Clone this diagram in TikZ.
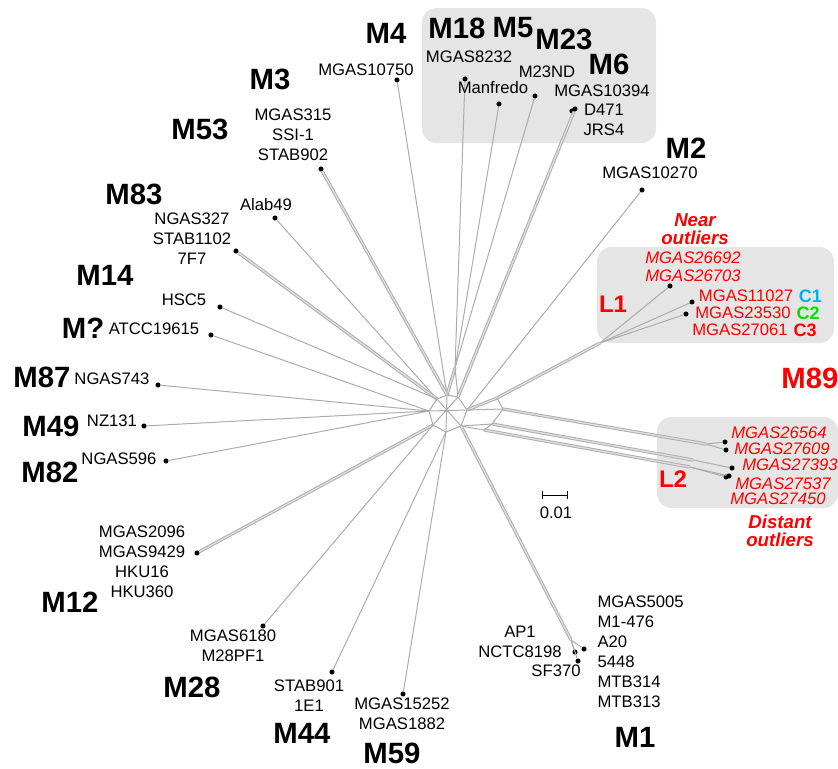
\documentclass[tikz,border=0pt]{standalone}
\usepackage{fontspec}
\setmainfont{Liberation Sans}
\usetikzlibrary{positioning}
\definecolor{netgray}{RGB}{172,172,172}
\definecolor{panelgray}{RGB}{229,229,229}
\definecolor{mred}{RGB}{255,0,0}
\definecolor{ccyan}{RGB}{0,176,240}
\definecolor{cgreen}{RGB}{0,225,0}

\begin{document}
\begin{tikzpicture}[x=0.75pt,y=-0.75pt]
  \tikzset{leaf/.style = {circle,fill=black,inner sep=0pt,minimum size=3.8pt}}
  \tikzset{edge/.style = {draw=netgray,line width=0.75pt}}
  \tikzset{bundle/.style = {draw=netgray,line width=0.7pt,double=netgray!40,double distance=1pt}}
  \tikzset{strain/.style = {inner sep=1pt,align=center,font=\fontsize{12.5}{15}\selectfont}}
  \tikzset{outlier/.style = {strain,text=mred,font=\fontsize{12.5}{13.5}\selectfont\itshape}}
  \tikzset{mtype/.style = {inner sep=1pt,font=\fontsize{22}{24}\selectfont\bfseries}}
  \tikzset{lmark/.style = {inner sep=1pt,text=mred,font=\fontsize{18}{20}\selectfont\bfseries}}
  \tikzset{ctag/.style = {inner sep=1pt,font=\fontsize{13.5}{15}\selectfont\bfseries}}
  \tikzset{note/.style = {inner sep=0pt,align=center,text=mred,font=\fontsize{14}{13.5}\selectfont\bfseries\itshape}}
  \tikzset{panel/.style = {fill=panelgray,rounded corners=11pt}}

\useasboundingbox (0,0) rectangle (838,768);

% grey panels
\fill[panel] (422,8) rectangle (656,143);
\fill[panel] (597,247) rectangle (834,343);
\fill[panel] (657,417) rectangle (838,508);

% strains
\node[leaf] (m4)   at (397,80) {};
\node[leaf] (m18)  at (465,79) {};
\node[leaf] (m5)   at (499,104) {};
\node[leaf] (m23)  at (535,96) {};
\node[leaf] (m6)   at (575,109) {};
\node[leaf] (m6b)  at (572,111) {};
\node[leaf] (m2)   at (642,190) {};
\node[leaf] (m3)   at (321,169) {};
\node[leaf] (m83a) at (275,218) {};
\node[leaf] (m83b) at (236,251) {};
\node[leaf] (m14)  at (220,307) {};
\node[leaf] (mq)   at (211,335) {};
\node[leaf] (m87)  at (158,385) {};
\node[leaf] (m49)  at (144,426) {};
\node[leaf] (m82)  at (166,461) {};
\node[leaf] (m12)  at (197,553) {};
\node[leaf] (m28)  at (263,626) {};
\node[leaf] (m44)  at (332,672) {};
\node[leaf] (m59)  at (403,694) {};
\node[leaf] (m1a)  at (575,652) {};
\node[leaf] (m1b)  at (584,649) {};
\node[leaf] (m1c)  at (578,661) {};
\node[leaf] (l1a)  at (670,286) {};
\node[leaf] (l1b)  at (692,302) {};
\node[leaf] (l1c)  at (686,314) {};
\node[leaf] (l2a)  at (725,442) {};
\node[leaf] (l2b)  at (726,450) {};
\node[leaf] (l2c)  at (732,468) {};
\node[leaf] (l2d)  at (729,476) {};
\node[leaf] (l2e)  at (726,477) {};

% centre of the network
\coordinate (r1) at (437,399);
\coordinate (r2) at (447,395);
\coordinate (r3) at (458,397);
\coordinate (r4) at (467,410);
\coordinate (r5) at (461,426);
\coordinate (r6) at (446,432);
\coordinate (r7) at (433,425);
\coordinate (r8) at (429,411);
\coordinate (htop) at (455,368);
\coordinate (jl1) at (600,343);
\coordinate (hl1) at (497,398);
\coordinate (jl2u) at (706,444);
\coordinate (jl2l) at (693,460);
\coordinate (jl2m) at (690,467);
\coordinate (hl2u) at (503,409);
\coordinate (hl2l) at (492,424);
\coordinate (hl2m) at (484,430);
\coordinate (jm1) at (571,640);

\draw[edge] (r1) -- (r2) -- (r3) -- (r4) -- (r5) -- (r6) -- (r7) -- (r8) -- cycle;
\draw[edge] (r1) -- (r5) (r3) -- (r7) (r2) -- (r6) (r4) -- (r8);

\draw[edge] (m4) -- (r2);
\draw[edge] (m18) -- (htop);
\draw[edge] (m5) -- (htop);
\draw[edge] (m23) -- (htop);
\draw[bundle] (htop) -- (r2);
\draw[edge] (htop) -- (r3);
\draw[bundle] (m6) -- (r3);
\draw[edge] (m2) -- (r4);
\draw[bundle] (m3) -- (r2);
\draw[edge] (m83a) -- (r1);
\draw[bundle] (m83b) -- (r1);
\draw[edge] (m14) -- (r1);
\draw[edge] (mq) -- (r8);
\draw[edge] (m87) -- (r8);
\draw[edge] (m49) -- (r8);
\draw[edge] (m82) -- (r8);
\draw[bundle] (m12) -- (r7);
\draw[edge] (m28) -- (r7);
\draw[edge] (m44) -- (r6);
\draw[edge] (m59) -- (r6);

\draw[edge] (l1a) -- (jl1);
\draw[edge] (l1b) -- (jl1);
\draw[edge] (l1c) -- (jl1);
\draw[bundle] (jl1) -- (hl1);
\draw[bundle] (hl1) -- (r4);

\draw[edge] (jl2u) -- (l2a);
\draw[edge] (jl2u) -- (l2b);
\draw[edge] (jl2l) -- (l2c);
\draw[edge] (jl2m) -- (l2d);
\draw[edge] (jl2m) -- (l2e);
\draw[bundle] (hl2u) -- (jl2u);
\draw[bundle] (hl2l) -- (jl2l);
\draw[bundle] (hl2m) -- (jl2m);
\draw[edge] (hl1) -- (hl2u) -- (hl2l) -- (hl2m);
\draw[edge] (r4) -- (hl2u);
\draw[edge] (r5) -- (hl2l);
\draw[edge] (r5) -- (hl2m);

\draw[bundle] (r5) -- (jm1);
\draw[edge] (jm1) -- (m1a);
\draw[edge] (jm1) -- (m1b);
\draw[edge] (jm1) -- (m1c);

% labels
\node[mtype] (t4) at (386,33) {M4};
\node[strain] (s10750) at (366,70) {MGAS10750};
\node[mtype] (t18) at (457,28) {M18};
\node[mtype] (t5) at (513,28) {M5};
\node[mtype] (t23) at (564,39) {M23};
\node[mtype] (t6) at (609,64) {M6};
\node[strain] (s8232) at (469,57) {MGAS8232};
\node[strain] (smanf) at (493,88) {Manfredo};
\node[strain] (s23nd) at (547,72) {M23ND};
\node[strain] (s10394) at (602,91) {MGAS10394};
\node[strain] (sd471) at (604,120) {D471\\JRS4};
\node[mtype] (t2) at (686,148) {M2};
\node[strain] (s10270) at (650,173) {MGAS10270};
\node[mtype] (t3) at (270,79) {M3};
\node[strain] (s315) at (293,135) {MGAS315\\SSI-1\\STAB902};
\node[mtype] (t53) at (200,129) {M53};
\node[mtype] (t83) at (134,194) {M83};
\node[strain] (salab) at (266,205) {Alab49};
\node[strain] (s327) at (192,239) {NGAS327\\STAB1102\\7F7};
\node[mtype] (t14) at (105,275) {M14};
\node[strain] (shsc) at (184,300) {HSC5};
\node[mtype] (tq) at (83,328) {M?};
\node[strain] (satcc) at (154,329) {ATCC19615};
\node[mtype] (t87) at (42,377) {M87};
\node[strain] (s743) at (112,379) {NGAS743};
\node[mtype] (t49) at (51,426) {M49};
\node[strain] (snz) at (112,421) {NZ131};
\node[mtype] (t82) at (50,472) {M82};
\node[strain] (s596) at (119,459) {NGAS596};
\node[strain] (s2096) at (142,562) {MGAS2096\\MGAS9429\\HKU16\\HKU360};
\node[mtype] (t12) at (70,602) {M12};
\node[strain] (s6180) at (233,646) {MGAS6180\\M28PF1};
\node[mtype] (t28) at (192,687) {M28};
\node[strain] (s901) at (309,696) {STAB901\\1E1};
\node[mtype] (t44) at (302,733) {M44};
\node[strain] (s15252) at (402,714) {MGAS15252\\MGAS1882};
\node[mtype] (t59) at (392,753) {M59};
\node[strain,anchor=west,align=left] (s5005) at (596,652) {MGAS5005\\M1-476\\A20\\5448\\MTB314\\MTB313};
\node[strain] (sap1) at (520,642) {AP1\\NCTC8198};
\node[strain] (ssf) at (556,671) {SF370};
\node[mtype] (t1) at (635,737) {M1};

% scale bar
\coordinate (sb1) at (542,495);
\coordinate (sb2) at (568,495);
\draw[|-|,line width=0.6pt] (sb1) -- (sb2);
\node[strain] (sbl) at (556,513) {0.01};

% outliers
\node[note] (near) at (695,229) {Near\\outliers};
\node[outlier] (s26692) at (693,267) {MGAS26692\\MGAS26703};
\node[lmark] (tl1) at (613,304) {L1};
\node[strain,text=mred] (s11027) at (746,296) {MGAS11027};
\node[strain,text=mred] (s23530) at (743,313) {MGAS23530};
\node[strain,text=mred] (s27061) at (740,330) {MGAS27061};
\node[ctag,text=ccyan,right=2pt of s11027] (c1) {C1};
\node[ctag,text=cgreen,right=2pt of s23530] (c2) {C2};
\node[ctag,text=mred,right=2pt of s27061] (c3) {C3};
\node[mtype,text=mred] (t89) at (810,378) {M89};
\node[outlier] (s26564) at (779,433) {MGAS26564};
\node[outlier] (s27609) at (782,449) {MGAS27609};
\node[outlier] (s27393) at (790,465) {MGAS27393};
\node[outlier] (s27537) at (783,484) {MGAS27537};
\node[outlier] (s27450) at (778,499) {MGAS27450};
\node[lmark] (tl2) at (673,479) {L2};
\node[note] (distant) at (780,531) {Distant\\outliers};

\end{tikzpicture}
\end{document}
